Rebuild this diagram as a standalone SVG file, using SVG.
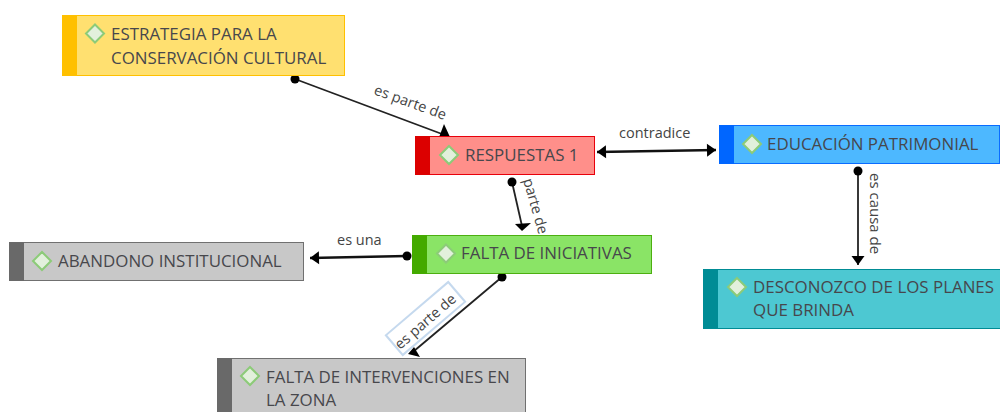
<svg xmlns="http://www.w3.org/2000/svg" width="1000" height="412" viewBox="0 0 1000 412">
<defs>
<marker id="end" markerUnits="userSpaceOnUse" markerWidth="14" markerHeight="16" refX="10" refY="8" orient="auto"><path d="M1,1.500 L10,8 L1,14.500 Z" fill="#000"/></marker>
<marker id="start" markerUnits="userSpaceOnUse" markerWidth="14" markerHeight="16" refX="1" refY="8" orient="auto"><path d="M10,1.500 L1,8 L10,14.500 Z" fill="#000"/></marker>
<marker id="dot" markerUnits="userSpaceOnUse" markerWidth="12" markerHeight="12" refX="6" refY="6"><circle cx="6" cy="6" r="4.500" fill="#000"/></marker>
</defs>
<style>
text{font-family:"Open Sans","Noto Sans","Liberation Sans",sans-serif}
.t{font-size:16.9px;fill:#47474c}
.l{font-size:14.5px;fill:#444}
.c{fill:none;stroke:#222;stroke-width:1.8}
.b{stroke:#111;stroke-width:2.6}
.d{fill:#e2f0dc;stroke:#8ccb78;stroke-width:2}
</style>
<g id="connectors">
<path class="c" d="M295,79 L442,134" marker-start="url(#dot)"/>
<polygon points="444,124 439.500,136 449.500,136" fill="#000"/>
<path class="c b" d="M597,152 L716,150" marker-start="url(#start)" marker-end="url(#end)"/>
<path class="c" d="M512,182 L522,226" marker-start="url(#dot)"/>
<polygon points="515,224 531,223 522,231" fill="#000"/>
<path class="c" d="M858,171 L858,265" marker-start="url(#dot)" marker-end="url(#end)"/>
<path class="c b" d="M407,256 L310,258" marker-start="url(#dot)" marker-end="url(#end)"/>
<path class="c" d="M502,277 L414,351" marker-start="url(#dot)"/>
<polygon points="414,347 408,354 420,357" fill="#000"/>
<text class="l" transform="translate(373,94) rotate(20)">es parte de</text>
<text class="l" x="619" y="138">contradice</text>
<text class="l" transform="translate(523,180) rotate(74)">parte de</text>
<text class="l" transform="translate(870,173) rotate(90)" style="font-size:15px">es causa de</text>
<text class="l" x="337" y="245">es una</text>
<rect x="-41" y="-13" width="82" height="26" transform="translate(425.500,318.500) rotate(-40.500)" fill="#fff" stroke="#c5d9ee" stroke-width="2"/>
<text class="l" transform="translate(400,350) rotate(-41)">es parte de</text>
</g>
<g id="n1">
<rect x="62.500" y="15.500" width="282" height="60" fill="#ffe070" stroke="#ffc000"/><rect x="62" y="15" width="15" height="61" fill="#ffc000"/>
<path class="d" d="M95,24.500 L104,33.500 L95,42.500 L86,33.500 Z"/>
<text class="t" x="111" y="39.500">ESTRATEGIA PARA LA</text><text class="t" x="111" y="63.500">CONSERVACIÓN CULTURAL</text>
</g>
<g id="n2">
<rect x="415.500" y="136.500" width="179" height="38" fill="#ff8f8a" stroke="#e8000b"/><rect x="415" y="136" width="15" height="39" fill="#dc0000"/>
<path class="d" d="M449,146 L458,155 L449,164 L440,155 Z"/>
<text class="t" x="465" y="161">RESPUESTAS 1</text>
</g>
<g id="n3">
<rect x="719.500" y="125.500" width="280" height="38" fill="#4db8ff" stroke="#0a6cff"/><rect x="719" y="125" width="15" height="39" fill="#0066ff"/>
<path class="d" d="M752,135 L761,144 L752,153 L743,144 Z"/>
<text class="t" x="767" y="150">EDUCACIÓN PATRIMONIAL</text>
</g>
<g id="n4">
<rect x="703.500" y="269.500" width="298" height="59" fill="#4dc8d2" stroke="#008c95"/><rect x="703" y="269" width="15" height="60" fill="#008c95"/>
<path class="d" d="M737,278 L746,287 L737,296 L728,287 Z"/>
<text class="t" x="753" y="293">DESCONOZCO DE LOS PLANES</text><text class="t" x="753" y="316">QUE BRINDA</text>
</g>
<g id="n5">
<rect x="9.500" y="242.500" width="294" height="38" fill="#c8c8c8" stroke="#707070"/><rect x="9" y="242" width="15" height="39" fill="#696969"/>
<path class="d" d="M42,252 L51,261 L42,270 L33,261 Z"/>
<text class="t" x="58" y="267">ABANDONO INSTITUCIONAL</text>
</g>
<g id="n6">
<rect x="412.500" y="235.500" width="239" height="38" fill="#8ae466" stroke="#4caf10"/><rect x="412" y="235" width="15" height="39" fill="#44aa00"/>
<path class="d" d="M446,244.500 L455,253.500 L446,262.500 L437,253.500 Z"/>
<text class="t" x="461" y="259">FALTA DE INICIATIVAS</text>
</g>
<g id="n7">
<rect x="217.500" y="358.500" width="308" height="60" fill="#c8c8c8" stroke="#707070"/><rect x="217" y="358" width="15" height="60" fill="#696969"/>
<path class="d" d="M250,367 L259,376 L250,385 L241,376 Z"/>
<text class="t" x="266" y="383">FALTA DE INTERVENCIONES EN</text><text class="t" x="266" y="406">LA ZONA</text>
</g>
</svg>
